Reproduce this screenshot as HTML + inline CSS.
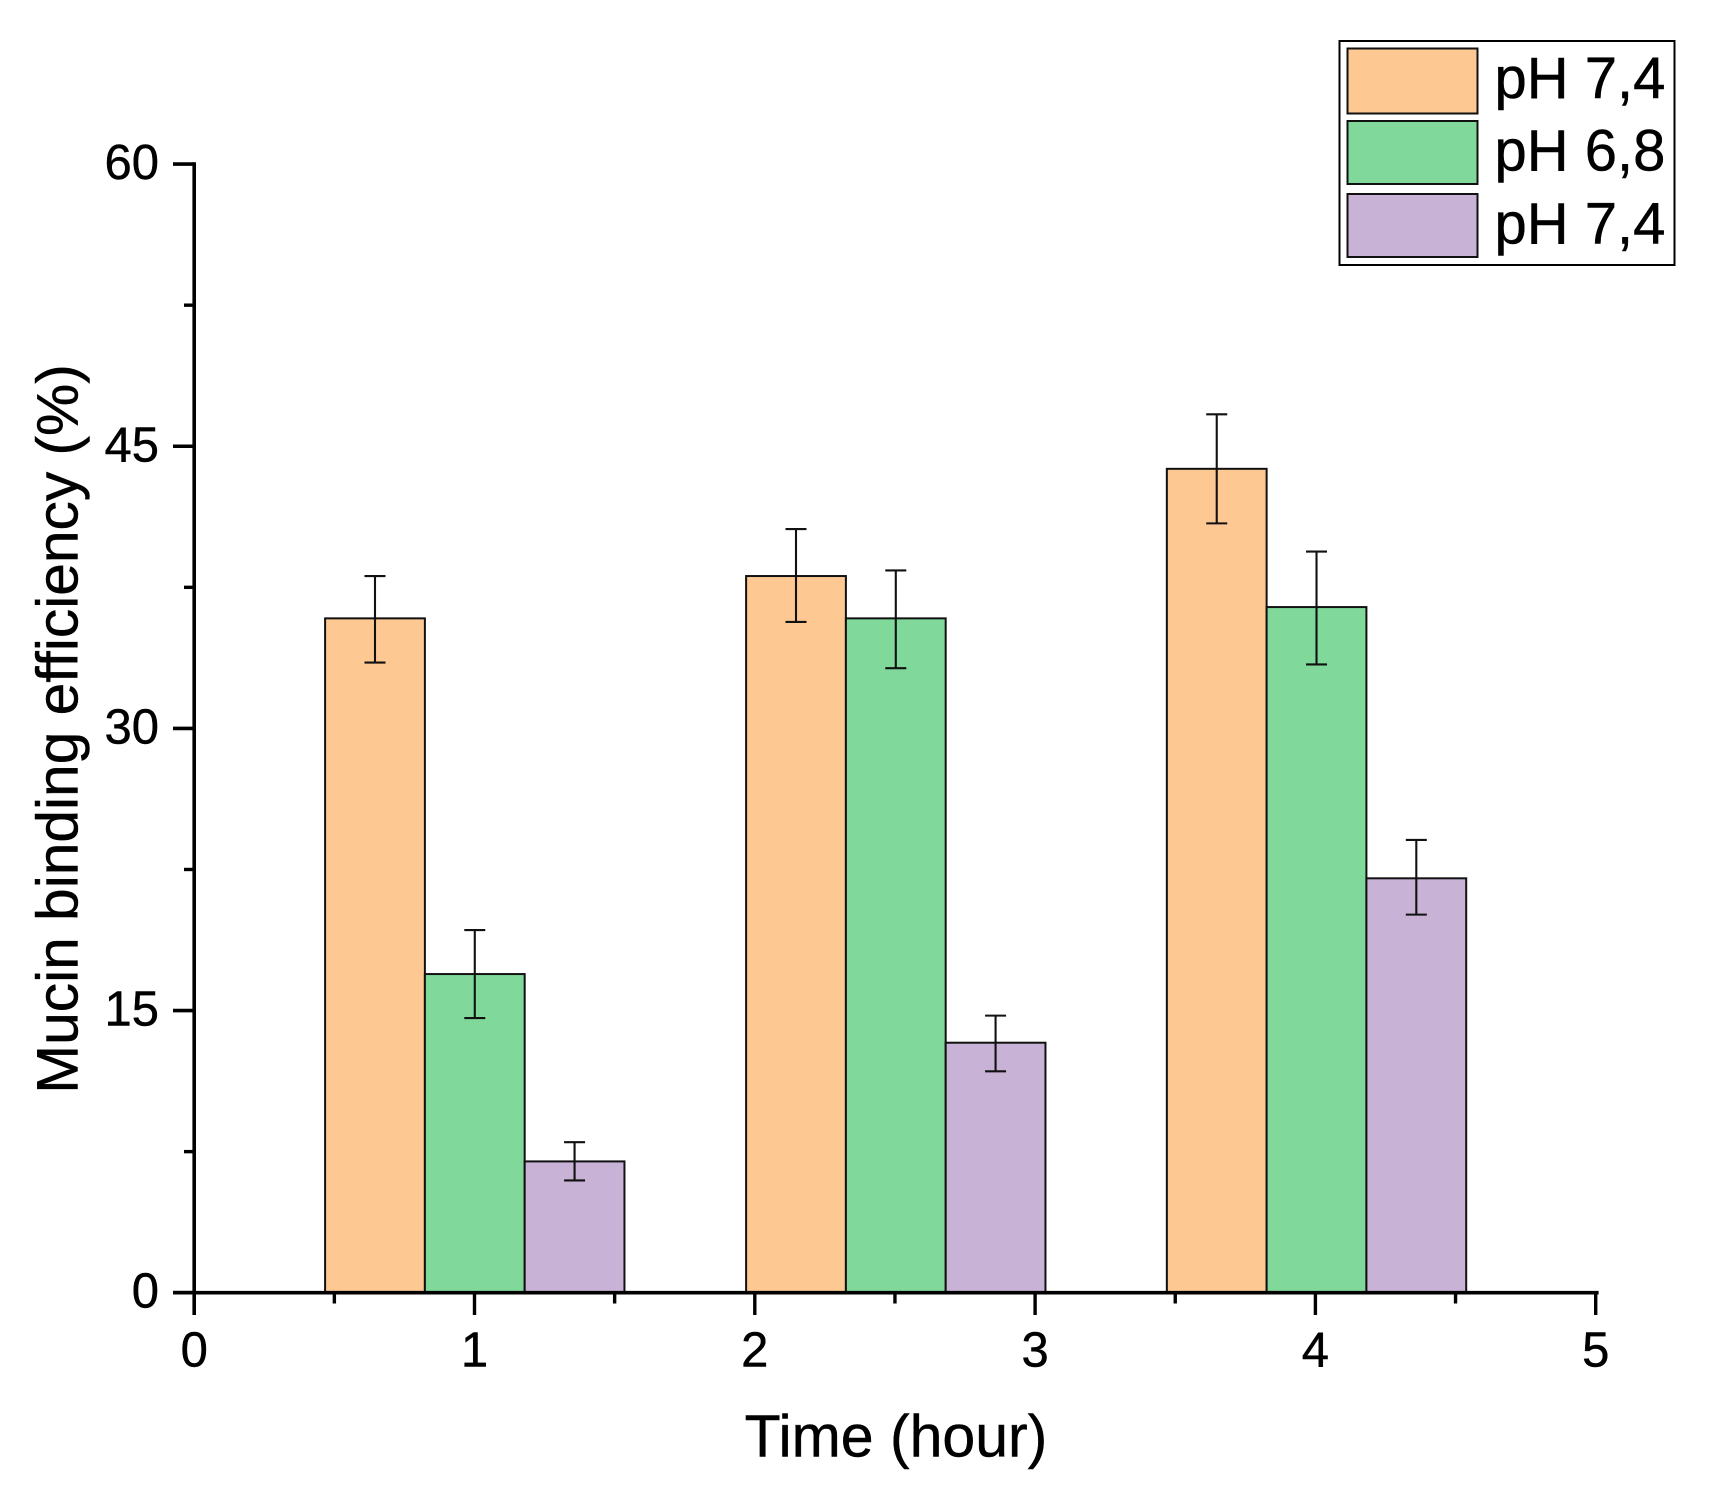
<!DOCTYPE html>
<html lang="en">
<head>
<meta charset="utf-8">
<title>Mucin binding efficiency</title>
<style>
html,body{margin:0;padding:0;background:#fff;}
svg{display:block;}
text{font-family:"Liberation Sans",Arial,sans-serif;fill:#000;stroke:#000;stroke-width:0.45px;}
</style>
</head>
<body>
<svg id="chart" xmlns="http://www.w3.org/2000/svg" width="1709" height="1498" viewBox="0 0 1709 1498">
  <rect x="0" y="0" width="1709" height="1498" fill="#ffffff"/>
  <g id="bars"></g>
  <g id="errors"></g>
  <g id="axes"></g>
  <text x="896" y="1456.5" font-size="59" text-anchor="middle">Time (hour)</text>
  <text x="77.5" y="729" font-size="58.7" text-anchor="middle" transform="rotate(-90 77.5 729)">Mucin binding efficiency (%)</text>
  <g>
    <rect x="1344" y="41" width="335" height="224" fill="#ffffff" stroke="#000" stroke-width="2" transform="translate(-4.5 0)"/>
    <rect x="1347.5" y="48.5" width="130" height="65" fill="#FEC893" stroke="#111" stroke-width="2"/>
    <text x="1494.5" y="98" font-size="58">pH 7,4</text>
    <rect x="1347.5" y="121" width="130" height="63" fill="#80D99A" stroke="#111" stroke-width="2"/>
    <text x="1494.5" y="170.5" font-size="58">pH 6,8</text>
    <rect x="1347.5" y="194" width="130" height="63" fill="#C8B3D6" stroke="#111" stroke-width="2"/>
    <text x="1494.5" y="243.5" font-size="58">pH 7,4</text>
  </g>
</svg>
<script>
// Chart data
const groupX = [1.001, 2.503, 4.004];
const orangeValues = [35.85, 38.1, 43.8];
const orangeHigh = [38.1, 40.6, 46.7];
const orangeLow = [33.5, 35.66, 40.9];
const greenValues = [16.94, 35.85, 36.45];
const greenHigh = [19.28, 38.4, 39.4];
const greenLow = [14.6, 33.2, 33.4];
const purpleValues = [6.98, 13.29, 22.03];
const purpleHigh = [8.0, 14.73, 24.07];
const purpleLow = [5.97, 11.77, 20.1];
const xTickLabels = [0, 1, 2, 3, 4, 5];
const xMinorTicks = [0.5, 1.5, 2.5, 3.5, 4.5];
const yTickLabels = [0, 15, 30, 45, 60];
const yMinorTicks = [7.5, 22.5, 37.5, 52.5];
const barWidthUnits = 0.356;

const NS = 'http://www.w3.org/2000/svg';
function X(v) { return 194.2 + v * 280.3; }
function Y(v) { return 1292.7 - v * 18.81; }
function make(tag, attrs, parent) {
  const el = document.createElementNS(NS, tag);
  for (const k in attrs) el.setAttribute(k, attrs[k]);
  parent.appendChild(el);
  return el;
}

const series = [
  { key: 'orange', fill: '#FEC893', offset: -1, values: orangeValues, high: orangeHigh, low: orangeLow },
  { key: 'green', fill: '#80D99A', offset: 0, values: greenValues, high: greenHigh, low: greenLow },
  { key: 'purple', fill: '#C8B3D6', offset: 1, values: purpleValues, high: purpleHigh, low: purpleLow }
];

const barsG = document.getElementById('bars');
const errorsG = document.getElementById('errors');
const axesG = document.getElementById('axes');
const barW = barWidthUnits * 280.3;

series.forEach(function (s) {
  groupX.forEach(function (gx, i) {
    const cx = X(gx) + s.offset * barW;
    const bar = make('rect', {
      x: cx - barW / 2, y: Y(s.values[i]), width: barW, height: Y(0) - Y(s.values[i]),
      fill: s.fill, stroke: '#111', 'stroke-width': 2
    }, barsG);
    
    

    const err = make('path', {
      d: 'M' + (cx - 10.5) + ' ' + Y(s.high[i]) + 'H' + (cx + 10.5) +
         'M' + cx + ' ' + Y(s.high[i]) + 'V' + Y(s.low[i]) +
         'M' + (cx - 10.5) + ' ' + Y(s.low[i]) + 'H' + (cx + 10.5),
      fill: 'none', stroke: '#111', 'stroke-width': 2.1
    }, errorsG);
    
    
  });
});

const yAxis = make('line', { x1: X(0), y1: Y(60) - 1.8, x2: X(0), y2: 1315, stroke: '#000', 'stroke-width': 3.6 }, axesG);



const xAxis = make('line', { x1: 173, y1: Y(0), x2: 1598.6, y2: Y(0), stroke: '#000', 'stroke-width': 3.6 }, axesG);



yTickLabels.forEach(function (v) {
  const t = make('line', { x1: 173, y1: Y(v), x2: X(0), y2: Y(v), stroke: '#000', 'stroke-width': 3.6 }, axesG);
  
  
  const l = make('text', { x: 159, y: Y(v) + 15, 'font-size': 49, 'text-anchor': 'end' }, axesG);
  
  
  l.textContent = String(v);
});

yMinorTicks.forEach(function (v) {
  const t = make('line', { x1: 184, y1: Y(v), x2: X(0), y2: Y(v), stroke: '#000', 'stroke-width': 3.4 }, axesG);
  
  
});

xTickLabels.forEach(function (v) {
  const t = make('line', { x1: X(v), y1: Y(0), x2: X(v), y2: 1315, stroke: '#000', 'stroke-width': 3.4 }, axesG);
  
  
  const l = make('text', { x: X(v), y: 1366.5, 'font-size': 49, 'text-anchor': 'middle' }, axesG);
  
  
  l.textContent = String(v);
});

xMinorTicks.forEach(function (v) {
  const t = make('line', { x1: X(v), y1: Y(0), x2: X(v), y2: 1303.5, stroke: '#000', 'stroke-width': 3.4 }, axesG);
  
  
});
</script>
</body>
</html>
